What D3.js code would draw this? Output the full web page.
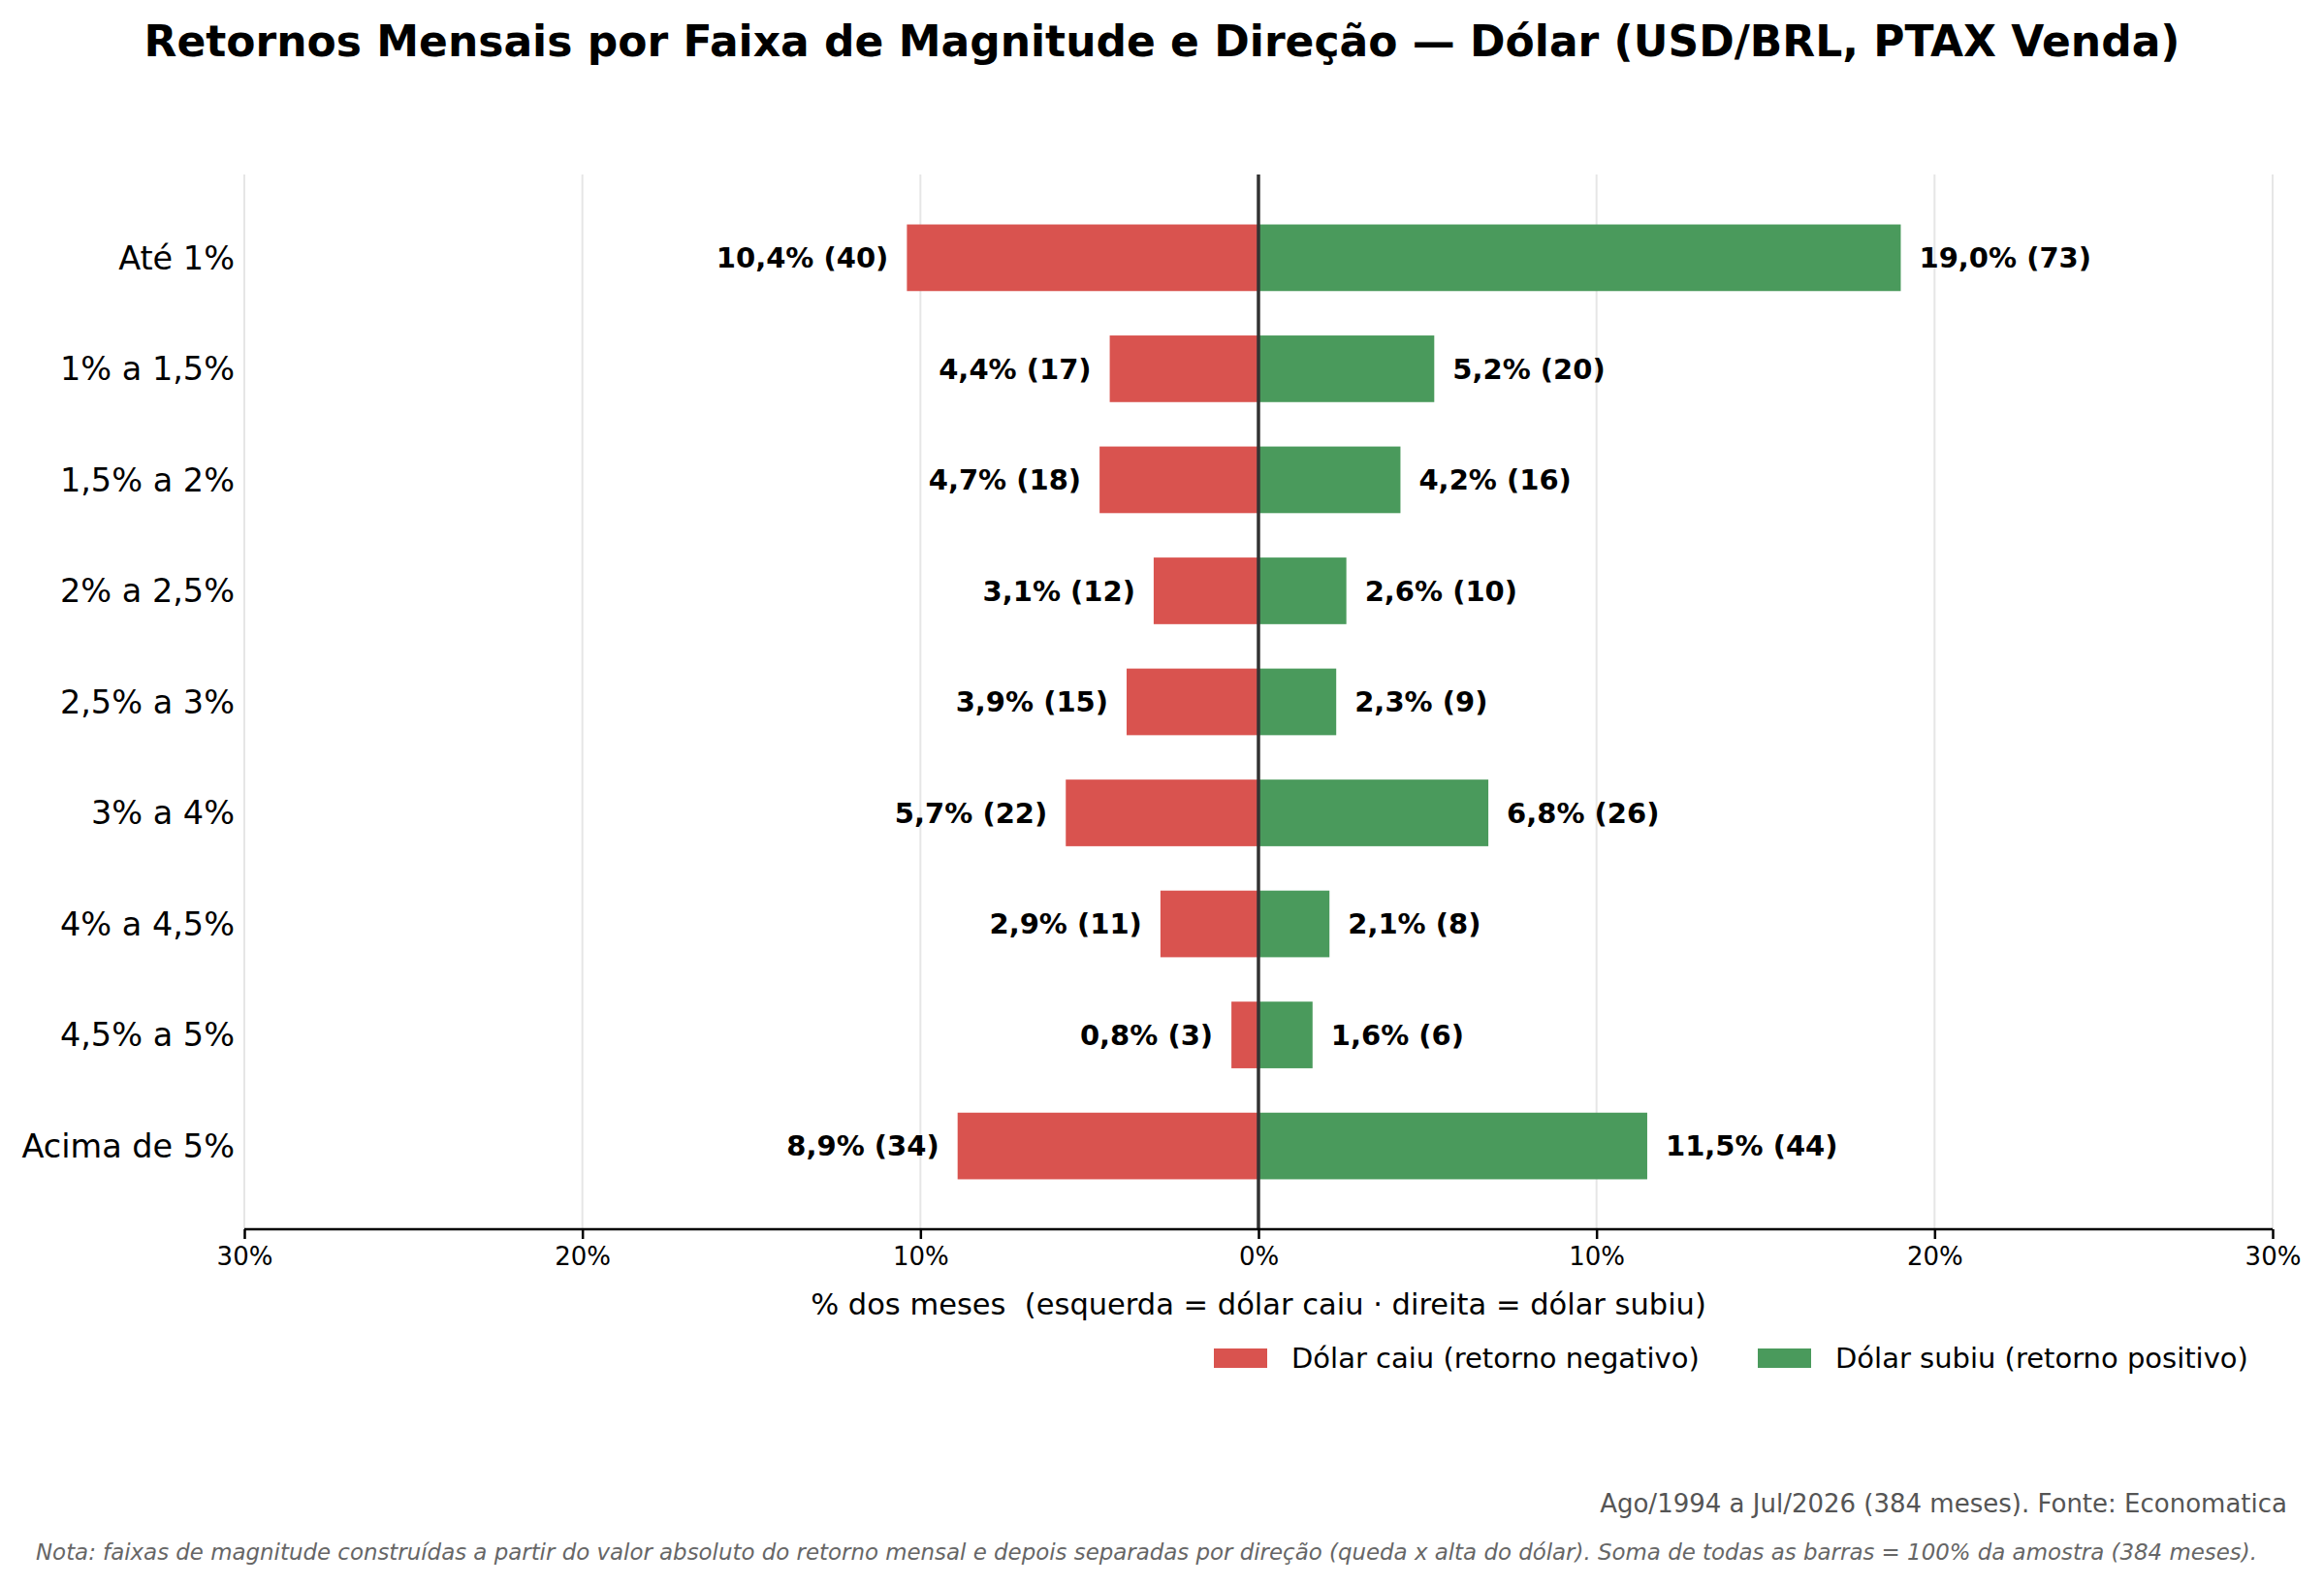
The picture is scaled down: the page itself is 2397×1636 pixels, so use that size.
<!DOCTYPE html>
<meta charset="utf-8">
<style>
body { margin: 0; background: #fff; }
text { font-family: "DejaVu Sans", sans-serif; }
.grid line { stroke: #e6e6e6; stroke-width: 2; }
.xaxis path, .xaxis line { stroke: #000; stroke-width: 2.5; }
.xaxis text { font-size: 26px; fill: #000; }
</style>
<body>
<script src="https://d3js.org/d3.v7.min.js"></script>
<script>

var w = 2397;
var h = 1636;

// faixas de magnitude (de cima para baixo)
var faixas = ["Até 1%", "1% a 1,5%", "1,5% a 2%", "2% a 2,5%", "2,5% a 3%",
              "3% a 4%", "4% a 4,5%", "4,5% a 5%", "Acima de 5%"];

// % dos meses e contagem — dólar caiu
var caiuPct = [10.4, 4.4, 4.7, 3.1, 3.9, 5.7, 2.9, 0.8, 8.9];
var caiuN   = [40, 17, 18, 12, 15, 22, 11, 3, 34];

// % dos meses e contagem — dólar subiu
var subiuPct = [19.0, 5.2, 4.2, 2.6, 2.3, 6.8, 2.1, 1.6, 11.5];
var subiuN   = [73, 20, 16, 10, 9, 26, 8, 6, 44];

var xTicks = [-30, -20, -10, 0, 10, 20, 30];

var corCaiu = "#d9534f";
var corSubiu = "#4a9a5c";

var margin = {top: 180, left: 252, right: 2344, bottom: 1268};

var svg = d3.select("body")
    .append("svg")
    .attr("width", w)
    .attr("height", h);

var x = d3.scaleLinear()
    .domain([-30, 30])
    .range([margin.left, margin.right]);

var y = d3.scaleLinear()
    .domain([-0.75, faixas.length - 0.25])
    .range([margin.top, margin.bottom]);

var barH = y(0.3) - y(-0.3);

var fmt = function(v) { return v.toFixed(1).replace(".", ","); };

// title
svg.append("text")
    .attr("x", w / 2)
    .attr("y", 58)
    .attr("text-anchor", "middle")
    .attr("font-size", "44px")
    .attr("font-weight", "bold")
    .text("Retornos Mensais por Faixa de Magnitude e Direção — Dólar (USD/BRL, PTAX Venda)");

// grid
svg.append("g")
    .attr("class", "grid")
    .selectAll("line")
    .data(xTicks)
    .enter()
    .append("line")
    .attr("x1", function(d) { return x(d); })
    .attr("x2", function(d) { return x(d); })
    .attr("y1", margin.top)
    .attr("y2", margin.bottom);

var idx = d3.range(faixas.length);

// bars
svg.selectAll("rect.caiu")
    .data(idx)
    .enter()
    .append("rect")
    .attr("class", "caiu")
    .attr("x", function(i) { return x(-caiuPct[i]); })
    .attr("y", function(i) { return y(i) - barH / 2; })
    .attr("width", function(i) { return x(0) - x(-caiuPct[i]); })
    .attr("height", barH)
    .attr("fill", corCaiu);

svg.selectAll("rect.subiu")
    .data(idx)
    .enter()
    .append("rect")
    .attr("class", "subiu")
    .attr("x", x(0))
    .attr("y", function(i) { return y(i) - barH / 2; })
    .attr("width", function(i) { return x(subiuPct[i]) - x(0); })
    .attr("height", barH)
    .attr("fill", corSubiu);

// zero line
svg.append("line")
    .attr("x1", x(0)).attr("x2", x(0))
    .attr("y1", margin.top).attr("y2", margin.bottom)
    .attr("stroke", "#333")
    .attr("stroke-width", 3.5);

// value labels
svg.selectAll("text.lcaiu")
    .data(idx)
    .enter()
    .append("text")
    .attr("class", "lcaiu")
    .attr("x", function(i) { return x(-caiuPct[i]) - 19; })
    .attr("y", function(i) { return y(i); })
    .attr("dy", "0.35em")
    .attr("text-anchor", "end")
    .attr("font-size", "29px")
    .attr("font-weight", "bold")
    .text(function(i) { return fmt(caiuPct[i]) + "% (" + caiuN[i] + ")"; });

svg.selectAll("text.lsubiu")
    .data(idx)
    .enter()
    .append("text")
    .attr("class", "lsubiu")
    .attr("x", function(i) { return x(subiuPct[i]) + 19; })
    .attr("y", function(i) { return y(i); })
    .attr("dy", "0.35em")
    .attr("text-anchor", "start")
    .attr("font-size", "29px")
    .attr("font-weight", "bold")
    .text(function(i) { return fmt(subiuPct[i]) + "% (" + subiuN[i] + ")"; });

// category labels
svg.selectAll("text.cat")
    .data(idx)
    .enter()
    .append("text")
    .attr("class", "cat")
    .attr("x", margin.left - 10)
    .attr("y", function(i) { return y(i); })
    .attr("dy", "0.35em")
    .attr("text-anchor", "end")
    .attr("font-size", "33.5px")
    .text(function(i) { return faixas[i]; });

// x axis
var xAxis = d3.axisBottom(x)
    .tickValues(xTicks)
    .tickSize(10)
    .tickPadding(9)
    .tickFormat(function(d) { return Math.abs(d) + "%"; });

svg.append("g")
    .attr("class", "xaxis")
    .attr("transform", "translate(0," + margin.bottom + ")")
    .call(xAxis)
    .call(function(g) { g.select(".domain").attr("d", "M" + margin.left + ",0H" + margin.right); })
    .selectAll("text").attr("font-family", "DejaVu Sans");

svg.append("text")
    .attr("x", x(0))
    .attr("y", 1356)
    .attr("text-anchor", "middle")
    .attr("font-size", "30.5px")
    .style("white-space", "pre")
    .text("% dos meses  (esquerda = dólar caiu · direita = dólar subiu)");

// legend
var legend = [
    {label: "Dólar caiu (retorno negativo)", cor: corCaiu, x: 1252},
    {label: "Dólar subiu (retorno positivo)", cor: corSubiu, x: 1813}
];

var lg = svg.selectAll("g.leg")
    .data(legend)
    .enter()
    .append("g")
    .attr("class", "leg")
    .attr("transform", function(d) { return "translate(" + d.x + ",1401)"; });

lg.append("rect")
    .attr("x", 0).attr("y", -10)
    .attr("width", 55).attr("height", 20)
    .attr("fill", function(d) { return d.cor; });

lg.append("text")
    .attr("x", 80)
    .attr("dy", "0.35em")
    .attr("font-size", "29px")
    .text(function(d) { return d.label; });

// footer
svg.append("text")
    .attr("x", 2359)
    .attr("y", 1560)
    .attr("text-anchor", "end")
    .attr("font-size", "26px")
    .attr("fill", "#555")
    .text("Ago/1994 a Jul/2026 (384 meses). Fonte: Economatica");

svg.append("text")
    .attr("x", 37)
    .attr("y", 1609)
    .attr("font-size", "22.9px")
    .attr("font-style", "italic")
    .attr("fill", "#666")
    .text("Nota: faixas de magnitude construídas a partir do valor absoluto do retorno mensal e depois separadas por direção (queda x alta do dólar). Soma de todas as barras = 100% da amostra (384 meses).");

</script>
</body>
